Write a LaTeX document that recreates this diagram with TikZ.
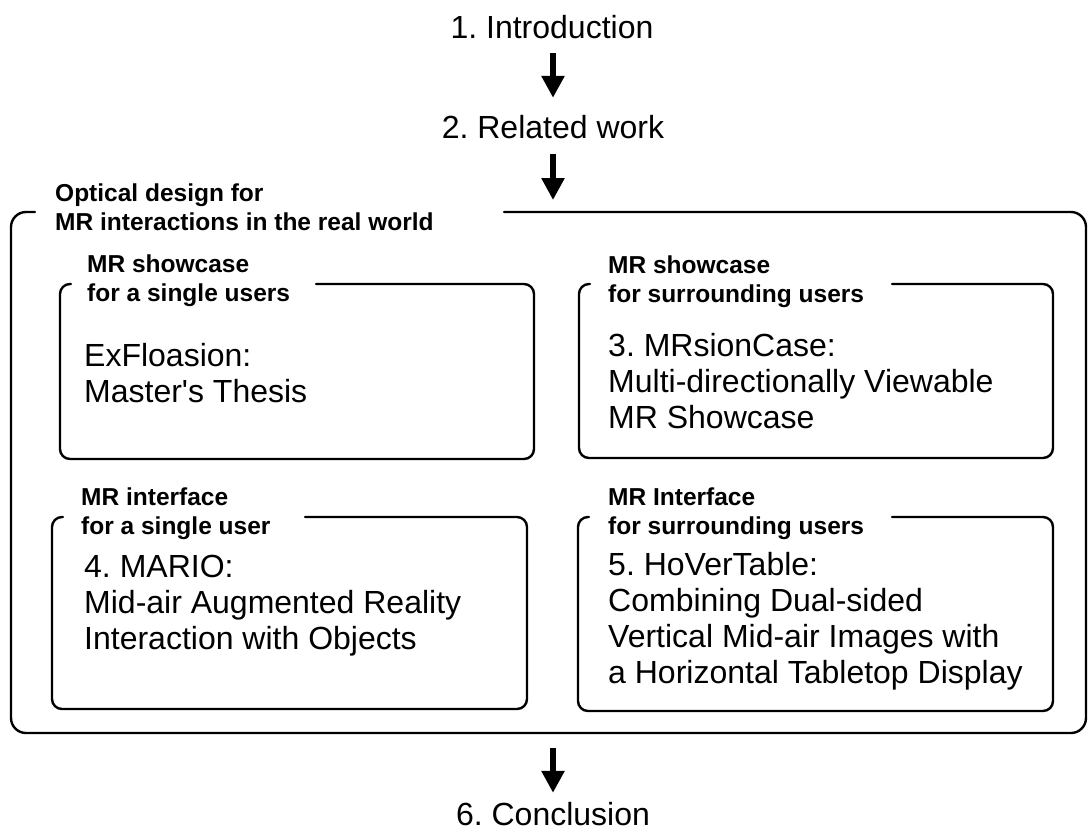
\documentclass[tikz,border=0pt]{standalone}
\usepackage{fontspec}
\setmainfont{Liberation Sans}[Ligatures=TeXOff]
\usetikzlibrary{arrows.meta}
\frenchspacing
\tikzset{
  frame/.style={line width=2.4pt, rounded corners=10pt, line cap=round},
  outerframe/.style={line width=2.4pt, rounded corners=15pt, line cap=round},
  big/.style={font=\fontsize{32}{36}\selectfont, inner sep=0pt, align=left},
  bigc/.style={font=\fontsize{32}{36}\selectfont, inner sep=0pt, text height=23pt, text depth=0pt},
  small/.style={font=\fontsize{24.5}{29}\bfseries\selectfont, inner sep=0pt, align=left},
  flowarrow/.style={line width=6pt, -{Triangle[width=22pt,length=22pt]}}
}
\begin{document}
\begin{tikzpicture}[x=1pt,y=-1pt]
\useasboundingbox (0,0) rectangle (1089,831);

% top chain
\node[bigc, anchor=base] (intro) at (552,38) {1. Introduction};
\node[bigc, anchor=base] (related) at (553,138) {2. Related work};
\coordinate (outertop) at (553,212);
\coordinate (outerbot) at (553,733);
\node[bigc, anchor=base] (concl) at (553,825) {6. Conclusion};

\draw[flowarrow, shorten <=15pt, shorten >=17pt] (intro.south -| outertop) -- (related.north -| outertop);
\draw[flowarrow, shorten <=16pt, shorten >=12pt] (related.south -| outertop) -- (outertop);
\draw[flowarrow, shorten <=15pt, shorten >=9pt] (outerbot) -- (concl.north -| outerbot);

% outer frame
\draw[outerframe] (35,212) -- (11,212) -- (11,733) -- (1086,733) -- (1086,212) -- (504,212);
\node[small, anchor=base west] (title) at (55,230) {Optical design for\\MR interactions in the real world};

% top-left box
\draw[frame] (71,284) -- (60,284) -- (60,459) -- (534,459) -- (534,284) -- (316,284);
\node[small, anchor=base west] (tllabel) at (87,301) {MR showcase\\for a single users};
\node[big, anchor=base west] (tltext) at (84,402) {ExFloasion:\\Master's Thesis};

% top-right box
\draw[frame] (590,284) -- (579,284) -- (579,458) -- (1053,458) -- (1053,284) -- (892,284);
\node[small, anchor=base west] (trlabel) at (608,302) {MR showcase\\for surrounding users};
\node[big, anchor=base west] (trtext) at (608,428) {3. MRsionCase:\\Multi-directionally Viewable\\MR Showcase};

% bottom-left box
\draw[frame] (63,517) -- (52,517) -- (52,709) -- (527,709) -- (527,517) -- (305,517);
\node[small, anchor=base west] (bllabel) at (81,534) {MR interface\\for a single user};
\node[big, anchor=base west] (bltext) at (84,649) {4. MARIO:\\Mid-air Augmented Reality\\Interaction with Objects};

% bottom-right box
\draw[frame] (589,517) -- (578,517) -- (578,711) -- (1053,711) -- (1053,517) -- (892,517);
\node[small, anchor=base west] (brlabel) at (608,534) {MR Interface\\for surrounding users};
\node[big, anchor=base west] (brtext) at (608,683) {5. HoVerTable:\\Combining Dual-sided\\Vertical Mid-air Images with\\a Horizontal Tabletop Display};
\end{tikzpicture}
\end{document}
